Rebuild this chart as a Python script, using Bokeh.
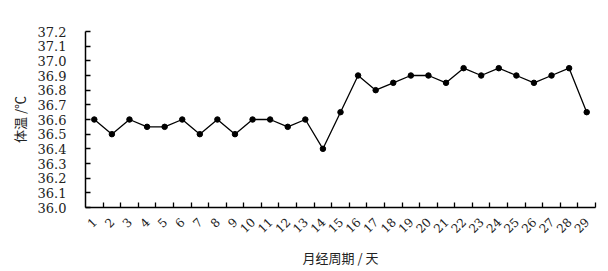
import math
from bokeh.plotting import figure
from bokeh.models import Range1d, FixedTicker, NumeralTickFormatter
from bokeh.embed import file_html
from bokeh.resources import INLINE

days = [str(i) for i in range(1, 30)]
temps = [36.6, 36.5, 36.6, 36.55, 36.55, 36.6, 36.5, 36.6, 36.5, 36.6,
         36.6, 36.55, 36.6, 36.4, 36.65, 36.9, 36.8, 36.85, 36.9, 36.9,
         36.85, 36.95, 36.9, 36.95, 36.9, 36.85, 36.9, 36.95, 36.65]
y_ticks = [round(36.0 + 0.1 * i, 1) for i in range(13)]
x_label = "月经周期 / 天"
y_label = "体温 /℃"

xs = list(range(1, len(days) + 1))

p = figure(width=608, height=271, frame_width=510, frame_height=176,
           output_backend="svg", toolbar_location=None,
           x_range=Range1d(0.5, len(days) + 0.5), y_range=Range1d(36.0, 37.2),
           min_border_left=85, min_border_right=13, min_border_top=31,
           min_border_bottom=64)
p.outline_line_color = None
p.xgrid.visible = False
p.ygrid.visible = False
p.background_fill_color = "white"
p.border_fill_color = "white"

p.line(xs, temps, line_color="black", line_width=1.3)
p.scatter(xs, temps, size=5.5, fill_color="black", line_color="black")

serif = "DejaVu Serif"
cjk = "Noto Sans CJK SC"

xa = p.xaxis[0]
xa.ticker = FixedTicker(ticks=xs, minor_ticks=[x + 0.5 for x in xs])
xa.major_label_overrides = {x: d for x, d in zip(xs, days)}
xa.major_label_orientation = math.pi / 4
xa.major_tick_in = 0
xa.major_tick_out = 0
xa.minor_tick_in = 5
xa.minor_tick_out = 0
xa.minor_tick_line_color = "black"
xa.minor_tick_line_width = 1.3
xa.axis_line_width = 1.5
xa.axis_line_color = "black"
xa.major_label_text_font = serif
xa.major_label_text_font_size = "12px"
xa.major_label_text_color = "#222222"
xa.major_label_standoff = 12
xa.axis_label = x_label
xa.axis_label_text_font = cjk
xa.axis_label_text_font_size = "13px"
xa.axis_label_text_font_style = "normal"
xa.axis_label_text_color = "#222222"
xa.axis_label_standoff = 8

ya = p.yaxis[0]
ya.ticker = FixedTicker(ticks=y_ticks)
ya.formatter = NumeralTickFormatter(format="0.0")
ya.major_tick_in = 5
ya.major_tick_out = 0
ya.minor_tick_in = 0
ya.minor_tick_out = 0
ya.major_tick_line_width = 1.3
ya.major_tick_line_color = "black"
ya.axis_line_width = 1.5
ya.axis_line_color = "black"
ya.major_label_text_font = serif
ya.major_label_text_font_size = "13px"
ya.major_label_text_color = "#222222"
ya.major_label_standoff = 19
ya.axis_label = y_label
ya.axis_label_text_font = cjk
ya.axis_label_text_font_size = "13px"
ya.axis_label_text_font_style = "normal"
ya.axis_label_text_color = "#222222"
ya.axis_label_standoff = 6

open("out.html", "w").write(file_html(p, INLINE))
